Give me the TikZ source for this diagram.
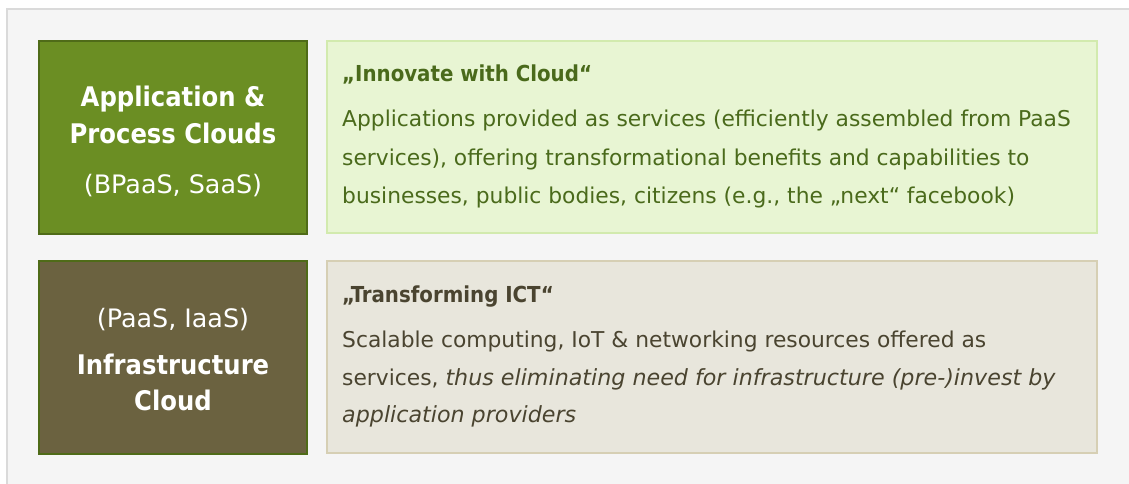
\documentclass[tikz,border=0pt]{standalone}
\usepackage{fontspec}
\setmainfont{DejaVu Sans}
\newfontfamily\condf{DejaVu Sans Condensed}
\definecolor{panelbg}{HTML}{F5F5F5}
\definecolor{panelln}{HTML}{DADADA}
\definecolor{grfill}{HTML}{6B8E23}
\definecolor{grline}{HTML}{4F6B18}
\definecolor{brfill}{HTML}{6B6240}
\definecolor{brline}{HTML}{4F6B18}
\definecolor{lgfill}{HTML}{E8F5D3}
\definecolor{lgline}{HTML}{D2EAAE}
\definecolor{bgfill}{HTML}{E8E6DC}
\definecolor{bgline}{HTML}{D6CFB4}
\definecolor{gtext}{HTML}{4A6A1B}
\definecolor{btext}{HTML}{4A4430}
\newcommand{\itx}[1]{{\fontsize{22.2}{24}\selectfont\itshape #1}}
\tikzset{
  box/.style={draw, line width=1.2pt, minimum width=268pt, minimum height=193pt, inner sep=0pt},
  desc/.style={draw, line width=1.2pt, minimum width=770pt, minimum height=192pt, inner sep=0pt},
  ttl/.style={anchor=base west, inner sep=0pt, font=\condf\fontsize{22}{24}\selectfont\bfseries},
  body/.style={anchor=base west, inner sep=0pt, font=\fontsize{21.8}{24}\selectfont},
  big/.style={anchor=base, inner sep=0pt, text=white, font=\condf\fontsize{27}{30}\selectfont\bfseries},
  sub/.style={anchor=base, inner sep=0pt, text=white, font=\fontsize{25.4}{28}\selectfont},
}
\begin{document}
\begin{tikzpicture}[x=1pt,y=-1pt]
\useasboundingbox (0,0) rectangle (1129,484);
\fill[white] (0,0) rectangle (1129,484);
\draw[panelln, fill=panelbg, line width=2pt] (7,9) rectangle (1140,495);
% boxes
\node[box, draw=grline, fill=grfill] (b1) at (173,137.5) {};
\node[desc, draw=lgline, fill=lgfill] (d1) at (712,137) {};
\node[box, draw=brline, fill=brfill] (b2) at (173,357.5) {};
\node[desc, draw=bgline, fill=bgfill] (d2) at (712,357) {};
% left texts
\node[big] (t1) at (173,107) {Application \&};
\node[big] (t2) at (173,143) {Process Clouds};
\node[sub] (t3) at (173,193) {(BPaaS, SaaS)};
\node[sub] (t4) at (173,327) {(PaaS, IaaS)};
\node[big] (t5) at (173,374) {Infrastructure};
\node[big] (t6) at (173,410) {Cloud};
% right texts top
\node[ttl, text=gtext] (h1) at (342,82) {„Innovate with Cloud“};
\node[body, text=gtext] (l1) at (342,127) {Applications provided as services (efficiently assembled from PaaS};
\node[body, text=gtext] (l2) at (342,165) {services), offering transformational benefits and capabilities to};
\node[body, text=gtext] (l3) at (342,203) {businesses, public bodies, citizens (e.g., the „next“ facebook)};
% right texts bottom
\node[ttl, text=btext] (h2) at (342,302) {„Transforming ICT“};
\node[body, text=btext] (m1) at (342,347) {Scalable computing, IoT \& networking resources offered as};
\node[body, text=btext] (m2) at (342,385) {services, \itx{thus eliminating need for infrastructure (pre-)invest by}};
\node[body, text=btext] (m3) at (342,422) {\itx{application providers}};
\end{tikzpicture}
\end{document}
